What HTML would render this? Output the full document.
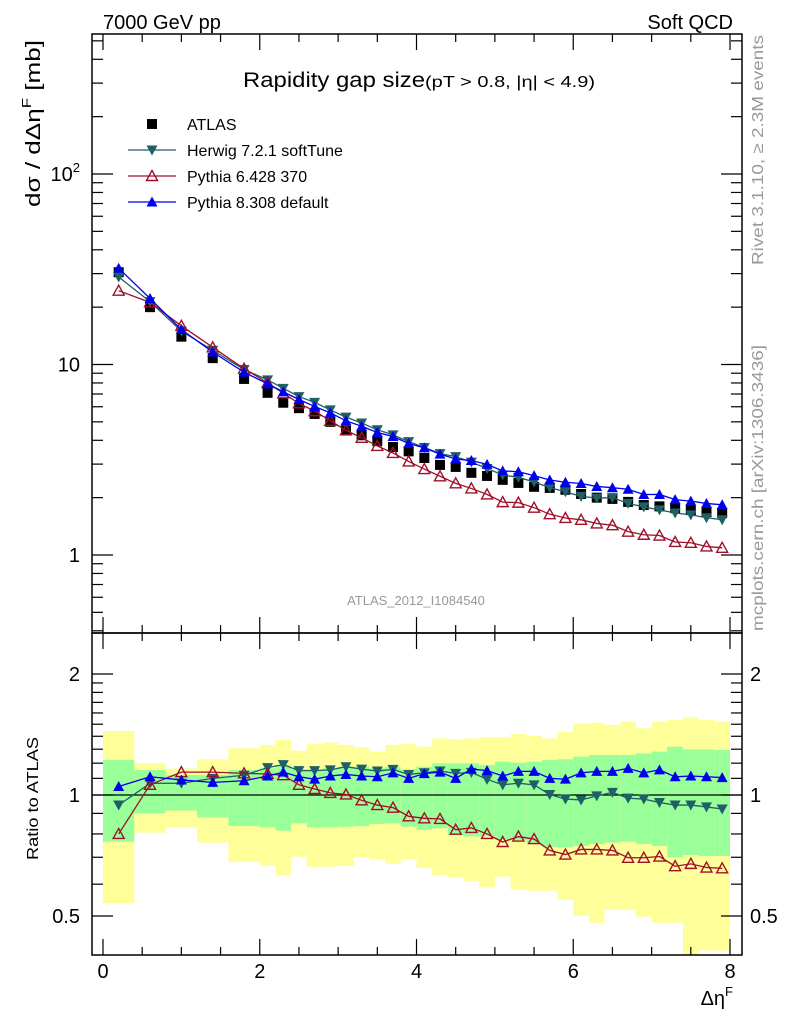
<!DOCTYPE html>
<html><head><meta charset="utf-8"><style>
html,body{margin:0;padding:0;background:#fff;}
svg{display:block;font-family:"Liberation Sans",Arial,sans-serif;}
</style></head><body>
<svg id="chart" width="786" height="1024" viewBox="0 0 786 1024" xmlns="http://www.w3.org/2000/svg">
<text x="103" y="29" font-size="20">7000 GeV pp</text>
<text x="733" y="29" font-size="20" text-anchor="end">Soft QCD</text>
<text x="243" y="87" font-size="21"><tspan textLength="182" lengthAdjust="spacingAndGlyphs">Rapidity gap size</tspan><tspan font-size="16" textLength="170" lengthAdjust="spacingAndGlyphs">(pT &gt; 0.8, |η| &lt; 4.9)</tspan></text>
<text transform="translate(40,207) rotate(-90)" font-size="20" textLength="167" lengthAdjust="spacingAndGlyphs">dσ / dΔη<tspan font-size="13" dy="-9">F</tspan><tspan dy="9"> [mb]</tspan></text>
<text transform="translate(38,860) rotate(-90)" font-size="16" textLength="123" lengthAdjust="spacingAndGlyphs">Ratio to ATLAS</text>
<text transform="translate(763,265) rotate(-90)" font-size="16" fill="#999" textLength="230" lengthAdjust="spacingAndGlyphs">Rivet 3.1.10, ≥ 2.3M events</text>
<text transform="translate(763,631) rotate(-90)" font-size="16" fill="#999" textLength="286" lengthAdjust="spacingAndGlyphs">mcplots.cern.ch [arXiv:1306.3436]</text>
<text x="416" y="605" font-size="13" fill="#999" text-anchor="middle">ATLAS_2012_I1084540</text>
<text x="733" y="1005" font-size="20" text-anchor="end">Δη<tspan font-size="13" dy="-9">F</tspan></text>
<g id="bands"></g><g id="main"></g><g id="ratio"></g><g id="axes"></g><g id="legend"></g>
</svg>
<script>
const xCenters=[0.2,0.6,1.0,1.4,1.8,2.1,2.3,2.5,2.7,2.9,3.1,3.3,3.5,3.7,3.9,4.1,4.3,4.5,4.7,4.9,5.1,5.3,5.5,5.7,5.9,6.1,6.3,6.5,6.7,6.9,7.1,7.3,7.5,7.7,7.9];
const xHalfWidths=[0.2,0.2,0.2,0.2,0.2,0.1,0.1,0.1,0.1,0.1,0.1,0.1,0.1,0.1,0.1,0.1,0.1,0.1,0.1,0.1,0.1,0.1,0.1,0.1,0.1,0.1,0.1,0.1,0.1,0.1,0.1,0.1,0.1,0.1,0.1];
const atlas=[30.5,20,14,10.8,8.4,7.1,6.3,5.9,5.5,5.0,4.5,4.25,3.96,3.69,3.5,3.23,2.97,2.9,2.7,2.6,2.48,2.39,2.28,2.25,2.2,2.09,2.0,1.97,1.9,1.83,1.8,1.76,1.72,1.68,1.66];
const herwigRatio=[0.944,1.069,1.07,1.10,1.12,1.17,1.19,1.15,1.15,1.155,1.176,1.16,1.147,1.158,1.125,1.136,1.147,1.132,1.138,1.094,1.06,1.07,1.06,1.003,0.977,0.972,0.995,1.015,0.982,0.977,0.958,0.944,0.944,0.934,0.923];
const py6Ratio=[0.80,1.06,1.14,1.14,1.132,1.128,1.12,1.06,1.035,1.012,1.003,0.97,0.944,0.93,0.885,0.875,0.872,0.82,0.828,0.80,0.764,0.788,0.777,0.728,0.711,0.732,0.732,0.728,0.698,0.698,0.703,0.665,0.674,0.66,0.657];
const py8Ratio=[1.05,1.11,1.09,1.075,1.085,1.115,1.14,1.11,1.095,1.115,1.125,1.115,1.11,1.135,1.10,1.13,1.14,1.10,1.16,1.15,1.115,1.145,1.145,1.10,1.095,1.135,1.145,1.145,1.165,1.135,1.155,1.11,1.115,1.11,1.105];
const yellowHi=[1.443,1.199,1.163,1.227,1.307,1.332,1.371,1.289,1.340,1.350,1.332,1.314,1.282,1.332,1.340,1.319,1.383,1.376,1.383,1.392,1.392,1.418,1.402,1.383,1.437,1.507,1.513,1.494,1.522,1.465,1.522,1.537,1.56,1.537,1.522];
const yellowLo=[0.538,0.806,0.831,0.761,0.682,0.667,0.631,0.702,0.663,0.663,0.666,0.700,0.692,0.674,0.692,0.657,0.632,0.623,0.611,0.589,0.626,0.582,0.578,0.578,0.548,0.500,0.481,0.518,0.518,0.498,0.481,0.481,0.396,0.410,0.410];
const greenHi=[1.222,1.154,1.121,1.121,1.154,1.165,1.188,1.158,1.158,1.165,1.176,1.176,1.165,1.176,1.158,1.176,1.199,1.199,1.199,1.188,1.210,1.203,1.210,1.222,1.227,1.246,1.258,1.258,1.258,1.269,1.282,1.319,1.299,1.299,1.294];
const greenLo=[0.765,0.900,0.915,0.880,0.837,0.831,0.815,0.850,0.831,0.831,0.834,0.837,0.847,0.850,0.834,0.818,0.826,0.795,0.788,0.790,0.773,0.773,0.761,0.741,0.741,0.747,0.755,0.761,0.765,0.755,0.747,0.700,0.709,0.705,0.705];
const xTickLabels=[0,2,4,6,8];
const yTickLabels=["1","10","10²"];
const ratioTickLabels=[0.5,1,2];

const NS="http://www.w3.org/2000/svg";
const L=92,R=742,T=34,MB=633,RB=955;
const xs=v=>103+v*78.375;
const ys=v=>555-Math.log10(v)*190.5;
const rs=v=>795-Math.log2(v)*121;
function mk(tag,attrs,parent){const e=document.createElementNS(NS,tag);for(const k in attrs)e.setAttribute(k,attrs[k]);parent.appendChild(e);return e;}
const gB=document.getElementById('bands'),gM=document.getElementById('main'),gR=document.getElementById('ratio'),gA=document.getElementById('axes'),gL=document.getElementById('legend');
const clipR=(y)=>Math.max(MB,Math.min(RB,y));
xCenters.forEach((c,i)=>{
  const x0=xs(c-xHalfWidths[i]),x1=xs(c+xHalfWidths[i]);
  const y=mk('rect',{x:x0,y:clipR(rs(yellowHi[i])),width:x1-x0,height:clipR(rs(yellowLo[i]))-clipR(rs(yellowHi[i])),fill:'#ffff99'},gB);
  
  
  const g=mk('rect',{x:x0,y:clipR(rs(greenHi[i])),width:x1-x0,height:clipR(rs(greenLo[i]))-clipR(rs(greenHi[i])),fill:'#99ff99'},gB);
  
  
});
const ln=mk('line',{x1:L,x2:R,y1:rs(1),y2:rs(1),stroke:'#000','stroke-width':1.2},gB);


function marker(kind,x,y,color,parent){
  const s=5.5;
  if(kind==='sq'){return mk('rect',{x:x-5,y:y-5,width:10,height:10,fill:'#000'},parent);}
  if(kind==='down'){return mk('polygon',{points:`${x-s},${y-s+1} ${x+s},${y-s+1} ${x},${y+s}`,fill:color},parent);}
  if(kind==='up'){return mk('polygon',{points:`${x-s},${y+s-1} ${x+s},${y+s-1} ${x},${y-s}`,fill:color},parent);}
  if(kind==='open'){return mk('polygon',{points:`${x-s},${y+s-1} ${x+s},${y+s-1} ${x},${y-s}`,fill:'none',stroke:color,'stroke-width':1.4},parent);}
}
const series=[
 {name:'herwig',ratio:herwigRatio,color:'#1f5f66',kind:'down'},
 {name:'pythia6',ratio:py6Ratio,color:'#a0102a',kind:'open'},
 {name:'pythia8',ratio:py8Ratio,color:'#0000ee',kind:'up'}];
atlas.forEach((v,i)=>{const m=marker('sq',xs(xCenters[i]),ys(v),'#000',gM);
  
  });
series.forEach(s=>{
  const pm=xCenters.map((c,i)=>xs(c)+','+ys(s.ratio[i]*atlas[i])).join(' ');
  const pl=mk('polyline',{points:pm,fill:'none',stroke:s.color,'stroke-width':1.3},gM);
  
  
  const pr=xCenters.map((c,i)=>xs(c)+','+rs(s.ratio[i])).join(' ');
  const rl=mk('polyline',{points:pr,fill:'none',stroke:s.color,'stroke-width':1.3},gR);
  
  
  xCenters.forEach((c,i)=>{
    const a=marker(s.kind,xs(c),ys(s.ratio[i]*atlas[i]),s.color,gM);
    
    
    const b=marker(s.kind,xs(c),rs(s.ratio[i]),s.color,gR);
    
    
  });
});
[[T,MB],[MB,RB]].forEach(([t,b],k)=>{const f=mk('rect',{x:L,y:t,width:R-L,height:b-t,fill:'none',stroke:'#000','stroke-width':1.5},gA);
  
  });
function tick(x1,y1,x2,y2){mk('line',{x1,y1,x2,y2,stroke:'#000','stroke-width':1.2},gA);}
for(let v=0;v<=8.01;v+=0.5){const x=xs(v),maj=Math.abs(v-Math.round(v/2)*2)<1e-6;const len=maj?16:8;
  tick(x,T,x,T+len);tick(x,MB,x,MB-len);tick(x,MB,x,MB+len);tick(x,RB,x,RB-len);}
xTickLabels.forEach(v=>{const t=mk('text',{x:xs(v),y:978,'font-size':20,'text-anchor':'middle'},gA);t.textContent=v;
  
  });
for(let d=-1;d<=2;d++)for(let m=1;m<=9;m++){const v=m*Math.pow(10,d);const y=ys(v);if(y<T||y>MB)continue;const len=m===1?21:11;tick(L,y,L+len,y);tick(R,y,R-len,y);}
yTickLabels.forEach((s,i)=>{const y=ys(Math.pow(10,i));const t=mk('text',{x:80,y:y+7,'font-size':20,'text-anchor':'end'},gA);
  if(i===2){t.textContent='10';const ts=mk('tspan',{'font-size':13,dy:-9},t);ts.textContent='2';}else t.textContent=s;
  
  });
[0.5,0.6,0.7,0.8,0.9,1,1.1,1.2,1.3,1.4,1.5,1.6,1.7,1.8,1.9,2].forEach(v=>{const y=rs(v);const maj=(v===0.5||v===1||v===2);const len=maj?21:11;tick(L,y,L+len,y);tick(R,y,R-len,y);});
ratioTickLabels.forEach(v=>{const y=rs(v)+7;
  const a=mk('text',{x:80,y,'font-size':20,'text-anchor':'end'},gA);a.textContent=v;
  
  
  const b=mk('text',{x:750,y,'font-size':20},gA);b.textContent=v;
  
  });
const leg=[['ATLAS','sq','#000'],['Herwig 7.2.1 softTune','down','#1f5f66'],['Pythia 6.428 370','open','#a0102a'],['Pythia 8.308 default','up','#0000ee']];
leg.forEach((e,i)=>{const y=124+i*26;
  const g=mk('g',{},gL);
  
  
  if(i>0)mk('line',{x1:128,x2:176,y1:y,y2:y,stroke:e[2],'stroke-width':1.3},g);
  marker(e[1],152,y,e[2],g);
  const t=mk('text',{x:187,y:y+6,'font-size':16},g);t.textContent=e[0];});
</script>
</body></html>
